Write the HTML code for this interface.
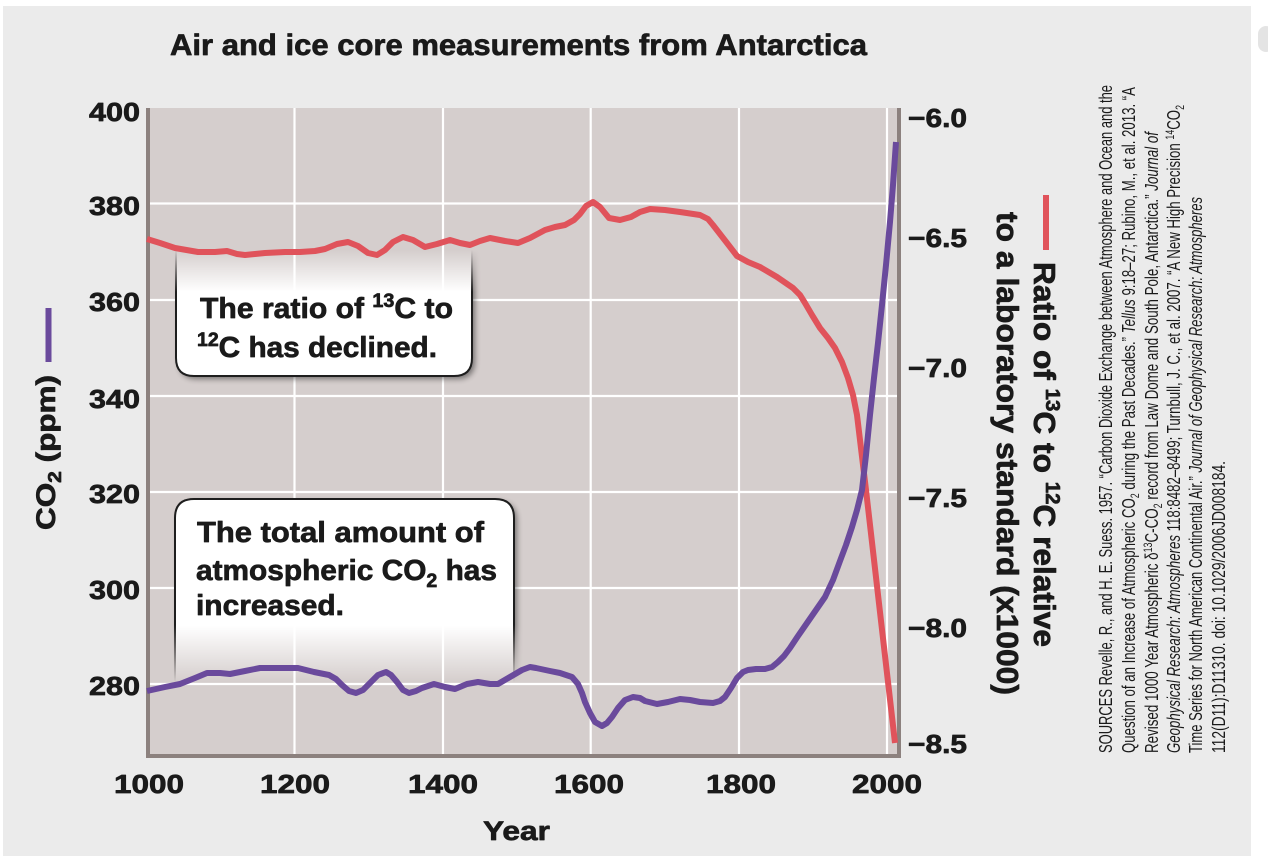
<!DOCTYPE html>
<html>
<head>
<meta charset="utf-8">
<style>
  html, body { margin: 0; padding: 0; background: #ffffff; }
  svg { display: block; }
  text { font-family: "Liberation Sans", "DejaVu Sans", sans-serif; fill: #1a1a1a; }
  .b { stroke: #1a1a1a; stroke-width: 0.7px; stroke-linejoin: round; }
</style>
</head>
<body>
<svg width="1268" height="856" viewBox="0 0 1268 856" xmlns="http://www.w3.org/2000/svg">
  <defs>
    <filter id="blur" x="-20%" y="-20%" width="140%" height="140%">
      <feGaussianBlur stdDeviation="3"/>
    </filter>
    <linearGradient id="gm1" gradientUnits="userSpaceOnUse" x1="0" y1="250" x2="0" y2="292">
      <stop offset="0" stop-color="#000"/>
      <stop offset="1" stop-color="#fff"/>
    </linearGradient>
    <linearGradient id="gm2" gradientUnits="userSpaceOnUse" x1="0" y1="625" x2="0" y2="682">
      <stop offset="0" stop-color="#fff"/>
      <stop offset="1" stop-color="#000"/>
    </linearGradient>
    <mask id="mk1" maskUnits="userSpaceOnUse" x="140" y="230" width="360" height="170">
      <rect x="140" y="230" width="360" height="170" fill="url(#gm1)"/>
    </mask>
    <mask id="mk2" maskUnits="userSpaceOnUse" x="150" y="480" width="390" height="230">
      <rect x="150" y="480" width="390" height="230" fill="url(#gm2)"/>
    </mask>
  </defs>

  <!-- background panel -->
  <rect x="3" y="6" width="1248" height="850" fill="#ebebeb"/>
  <rect x="1258" y="26" width="16" height="26" rx="8" fill="#e4e4e4"/>

  <!-- title -->
  <text class="b" x="170" y="55" font-size="30" font-weight="bold" textLength="697" lengthAdjust="spacingAndGlyphs">Air and ice core measurements from Antarctica</text>

  <!-- plot background -->
  <rect x="150" y="108" width="747" height="646" fill="#d5cecd"/>

  <!-- gridlines -->
  <g stroke="#ffffff" stroke-width="2.2">
    <line x1="294.5" y1="108" x2="294.5" y2="754"/>
    <line x1="443" y1="108" x2="443" y2="754"/>
    <line x1="590.7" y1="108" x2="590.7" y2="754"/>
    <line x1="739" y1="108" x2="739" y2="754"/>
    <line x1="887" y1="108" x2="887" y2="754"/>
    <line x1="150" y1="203.5" x2="897" y2="203.5"/>
    <line x1="150" y1="300" x2="897" y2="300"/>
    <line x1="150" y1="396" x2="897" y2="396"/>
    <line x1="150" y1="492" x2="897" y2="492"/>
    <line x1="150" y1="588" x2="897" y2="588"/>
    <line x1="150" y1="684" x2="897" y2="684"/>
  </g>

  <!-- axes -->
  <rect x="146" y="108" width="4" height="650" fill="#8c817e"/>
  <rect x="897" y="108" width="4" height="650" fill="#8c817e"/>
  <rect x="146" y="754" width="755" height="4" fill="#8c817e"/>

  <!-- Box 1 -->
  <g mask="url(#mk1)">
    <path d="M176,236 V358 Q176,376 194,376 H454 Q472,376 472,358 V236" fill="#000" opacity="0.45" filter="url(#blur)" transform="translate(3,3)"/>
    <path d="M176,236 V358 Q176,376 194,376 H454 Q472,376 472,358 V236 Z" fill="#ffffff"/>
    <path d="M176,236 V358 Q176,376 194,376 H454 Q472,376 472,358 V236" fill="none" stroke="#1e1e1e" stroke-width="2"/>
  </g>
  <text class="b" x="200" y="318" font-size="29" font-weight="bold" textLength="253" lengthAdjust="spacingAndGlyphs">The ratio of <tspan font-size="19" dy="-11">13</tspan><tspan dy="11">C to</tspan></text>
  <text class="b" x="197" y="357" font-size="29" font-weight="bold" textLength="240" lengthAdjust="spacingAndGlyphs"><tspan font-size="19" dy="-11">12</tspan><tspan dy="11">C has declined.</tspan></text>

  <!-- Box 2 -->
  <g mask="url(#mk2)">
    <path d="M175,705 V518 Q175,499 194,499 H495 Q514,499 514,518 V705" fill="#000" opacity="0.45" filter="url(#blur)" transform="translate(3,3)"/>
    <path d="M175,705 V518 Q175,499 194,499 H495 Q514,499 514,518 V705 Z" fill="#ffffff"/>
    <path d="M175,705 V518 Q175,499 194,499 H495 Q514,499 514,518 V705" fill="none" stroke="#1e1e1e" stroke-width="2"/>
  </g>
  <text class="b" x="197" y="542" font-size="29" font-weight="bold" textLength="287" lengthAdjust="spacingAndGlyphs">The total amount of</text>
  <text class="b" x="196" y="580" font-size="29" font-weight="bold" textLength="301" lengthAdjust="spacingAndGlyphs">atmospheric CO<tspan font-size="19" dy="7">2</tspan><tspan dy="-7"> has</tspan></text>
  <text class="b" x="196" y="615" font-size="29" font-weight="bold" textLength="148" lengthAdjust="spacingAndGlyphs">increased.</text>

  <!-- red series -->
  <polyline fill="none" stroke="#e0535b" stroke-width="6" stroke-linejoin="round" stroke-linecap="butt"
    points="147,239 160,243 175,248 198,252 215,252 227,251 237,254 245,255 255,254 265,253 285,252 300,252 315,251 325,249 337,244 348,242 358,246 368,253 377,255 385,250 393,242 403,237 413,240 425,247 437,244 450,240 460,243 470,245 480,241 490,238 505,241 518,243 530,238 545,230 555,227 565,225 574,220 580,214 586,206 593,202 600,207 609,218 620,220 631,217 640,212 650,209 665,210 680,212 700,215 708,219 713,225 720,234 727,243 737,256 748,262 760,267 777,277 793,288 800,295 805,303 812,315 820,328 828,338 835,348 842,362 848,378 853,395 857,415 860,440 863,465 866,490 895,743"/>

  <!-- purple series -->
  <polyline fill="none" stroke="#6a4a9c" stroke-width="6" stroke-linejoin="round" stroke-linecap="butt"
    points="147,691 165,687 180,684 195,678 207,673 220,673 230,674 245,671 260,668 280,668 298,668 306,670 314,672 329,675 336,679 342,685 349,691 356,693 363,690 370,683 378,675 386,672 391,675 397,682 403,690 409,693 416,691 422,688 434,684 445,687 455,689 467,684 478,682 490,684 498,684 510,677 522,670 530,667 536,668 550,671 560,673 572,677 578,684 582,693 585,702 590,713 595,722 602,726 607,723 612,717 618,708 625,700 633,697 640,698 645,701 657,704 668,702 680,699 690,700 700,702 713,703 720,701 725,697 731,688 737,678 743,672 748,670 756,669 765,669 772,667 778,662 784,656 790,648 798,636 807,623 816,610 825,597 833,580 840,561 846,545 852,527 857,510 862,490 866,455 870,415 874,378 878,343 882,305 886,265 890,222 893,185 896,142"/>

  <!-- left tick labels -->
  <g class="b" font-size="26" font-weight="bold" text-anchor="end">
    <text x="140" y="121" textLength="51" lengthAdjust="spacingAndGlyphs">400</text>
    <text x="140" y="215" textLength="51" lengthAdjust="spacingAndGlyphs">380</text>
    <text x="140" y="311" textLength="51" lengthAdjust="spacingAndGlyphs">360</text>
    <text x="140" y="408" textLength="51" lengthAdjust="spacingAndGlyphs">340</text>
    <text x="140" y="503" textLength="51" lengthAdjust="spacingAndGlyphs">320</text>
    <text x="140" y="599" textLength="51" lengthAdjust="spacingAndGlyphs">300</text>
    <text x="140" y="695" textLength="51" lengthAdjust="spacingAndGlyphs">280</text>
  </g>

  <!-- right tick labels -->
  <g class="b" font-size="26" font-weight="bold">
    <text x="908" y="127" textLength="59" lengthAdjust="spacingAndGlyphs">−6.0</text>
    <text x="908" y="247" textLength="59" lengthAdjust="spacingAndGlyphs">−6.5</text>
    <text x="908" y="377" textLength="59" lengthAdjust="spacingAndGlyphs">−7.0</text>
    <text x="908" y="507" textLength="59" lengthAdjust="spacingAndGlyphs">−7.5</text>
    <text x="908" y="637" textLength="59" lengthAdjust="spacingAndGlyphs">−8.0</text>
    <text x="908" y="753" textLength="59" lengthAdjust="spacingAndGlyphs">−8.5</text>
  </g>

  <!-- x tick labels -->
  <g class="b" font-size="26" font-weight="bold" text-anchor="middle">
    <text x="149" y="793" textLength="70" lengthAdjust="spacingAndGlyphs">1000</text>
    <text x="295" y="793" textLength="70" lengthAdjust="spacingAndGlyphs">1200</text>
    <text x="443" y="793" textLength="70" lengthAdjust="spacingAndGlyphs">1400</text>
    <text x="589" y="793" textLength="70" lengthAdjust="spacingAndGlyphs">1600</text>
    <text x="741" y="793" textLength="70" lengthAdjust="spacingAndGlyphs">1800</text>
    <text x="887" y="793" textLength="70" lengthAdjust="spacingAndGlyphs">2000</text>
  </g>
  <text class="b" x="483" y="840" font-size="27" font-weight="bold" textLength="67" lengthAdjust="spacingAndGlyphs">Year</text>

  <!-- left axis title -->
  <text class="b" transform="translate(55,530) rotate(-90)" font-size="27" font-weight="bold" textLength="155" lengthAdjust="spacingAndGlyphs">CO<tspan font-size="18" dy="6">2</tspan><tspan dy="-6">  (ppm)</tspan></text>
  <rect x="45.5" y="308" width="6" height="54" fill="#6a4a9c"/>

  <!-- right axis title -->
  <rect x="1043" y="195" width="6" height="55" fill="#e0535b"/>
  <text class="b" transform="translate(1034,262) rotate(90)" font-size="31" font-weight="bold" textLength="385" lengthAdjust="spacingAndGlyphs">Ratio of <tspan font-size="20" dy="-12">13</tspan><tspan dy="12">C to </tspan><tspan font-size="20" dy="-12">12</tspan><tspan dy="12">C relative</tspan></text>
  <text class="b" transform="translate(997,212) rotate(90)" font-size="31" font-weight="bold" textLength="483" lengthAdjust="spacingAndGlyphs">to a laboratory standard (x1000)</text>

  <!-- sources -->
  <g font-size="18" style="fill:#333">
    <text transform="translate(1112,753) rotate(-90)" textLength="668" lengthAdjust="spacingAndGlyphs" fill="#333">SOURCES Revelle, R., and H. E. Suess. 1957. “Carbon Dioxide Exchange between Atmosphere and Ocean and the</text>
    <text transform="translate(1135,753) rotate(-90)" textLength="666" lengthAdjust="spacingAndGlyphs" fill="#333">Question of an Increase of Atmospheric CO<tspan font-size="12" dy="4">2</tspan><tspan dy="-4"> during the Past Decades.” </tspan><tspan font-style="italic">Tellus</tspan> 9:18–27; Rubino, M., et al. 2013. “A</text>
    <text transform="translate(1158,753) rotate(-90)" textLength="621" lengthAdjust="spacingAndGlyphs" fill="#333">Revised 1000 Year Atmospheric δ<tspan font-size="12" dy="-6">13</tspan><tspan dy="6">C-CO</tspan><tspan font-size="12" dy="4">2</tspan><tspan dy="-4"> record from Law Dome and South Pole, Antarctica.” </tspan><tspan font-style="italic">Journal of</tspan></text>
    <text transform="translate(1180,753) rotate(-90)" textLength="648" lengthAdjust="spacingAndGlyphs" fill="#333"><tspan font-style="italic">Geophysical Research: Atmospheres</tspan> 118:8482–8499; Turnbull, J. C., et al. 2007. “A New High Precision <tspan font-size="12" dy="-6">14</tspan><tspan dy="6">CO</tspan><tspan font-size="12" dy="4">2</tspan></text>
    <text transform="translate(1202,753) rotate(-90)" textLength="556" lengthAdjust="spacingAndGlyphs" fill="#333">Time Series for North American Continental Air.” <tspan font-style="italic">Journal of Geophysical Research: Atmospheres</tspan></text>
    <text transform="translate(1225,753) rotate(-90)" textLength="292" lengthAdjust="spacingAndGlyphs" fill="#333">112(D11):D11310. doi: 10.1029/2006JD008184.</text>
  </g>
</svg>
</body>
</html>
